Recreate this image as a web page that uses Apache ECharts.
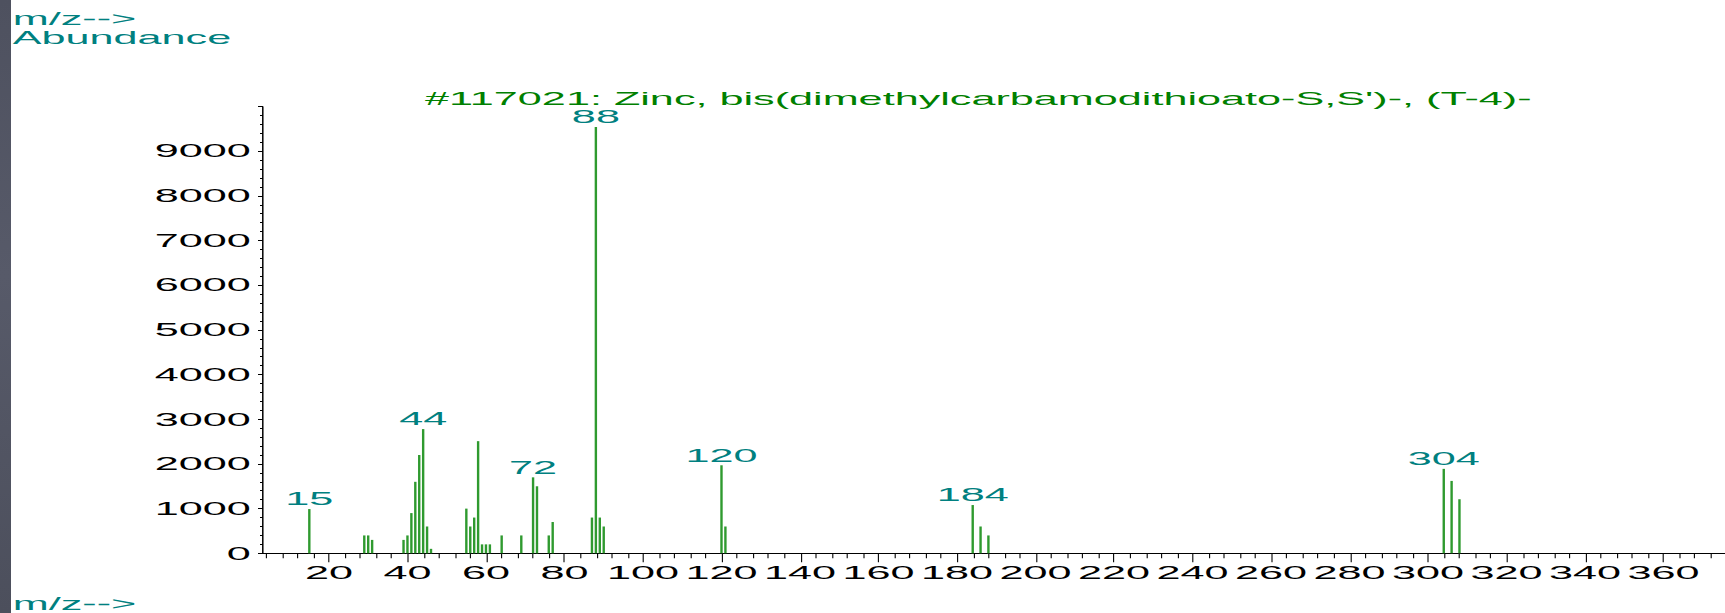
<!DOCTYPE html>
<html>
<head>
<meta charset="utf-8">
<script src="https://cdn.jsdelivr.net/npm/echarts@6/dist/echarts.min.js"></script>
<style>
  html, body { margin: 0; padding: 0; background: #ffffff; width: 1725px; height: 613px; overflow: hidden; }
  /* the spectrum is laid out on a narrow canvas and widened, giving the broad instrument lettering */
  #chart { position: absolute; left: 0; top: 0; width: 718.75px; height: 613px; transform: scaleX(2.4); transform-origin: 0 0; }
  #strip { position: absolute; left: 0; top: 0; width: 11px; height: 613px; z-index: 2;
           background: linear-gradient(180deg, #4e515f 0%, #575a69 45%, #4c4f5c 100%); }
</style>
</head>
<body>
<div id="chart"></div>
<div id="strip"></div>
<script>
// Mass spectrum: m/z positions and their abundances
const mzValues   = [15, 29, 30, 31, 39, 40, 41, 42, 43, 44, 45, 46,
                    55, 56, 57, 58, 59, 60, 61, 64, 69, 72, 73, 76, 77,
                    87, 88, 89, 90, 120, 121, 184, 186, 188, 304, 306, 308];
const abundances = [990, 400, 400, 300, 300, 400, 900, 1600, 2200, 2780, 600, 100,
                    1000, 600, 800, 2510, 200, 200, 200, 400, 400, 1700, 1500, 400, 700,
                    800, 9540, 800, 600, 1970, 600, 1080, 600, 400, 1890, 1620, 1210];
// peaks whose m/z is printed above the line
const labeledPeaks = [15, 44, 72, 88, 120, 184, 304];

// axis tick labels
const xTickLabels = [20, 40, 60, 80, 100, 120, 140, 160, 180, 200, 220, 240, 260, 280, 300, 320, 340, 360];
const yTickLabels = [0, 1000, 2000, 3000, 4000, 5000, 6000, 7000, 8000, 9000];

const titleText = "#117021: Zinc, bis(dimethylcarbamodithioato-S,S')-, (T-4)-";

// horizontal widening applied to the chart box; screen pixels -> layout units
const S = 2.4;
const px = v => v / S;

const FONT = '"Liberation Sans", Arial, Helvetica, sans-serif';
const TEAL = '#008080';

// small x ticks every 4 m/z between the labelled ones
const xMinorTicks = [];
for (let v = 4; v <= 372; v += 4) { if (v % 20 !== 0) xMinorTicks.push(v); }

const chart = echarts.init(document.getElementById('chart'), null, { renderer: 'svg' });

chart.setOption({
  animation: false,
  backgroundColor: '#ffffff',
  textStyle: { fontFamily: FONT },
  title: {
    text: titleText,
    left: px(425),
    top: 89.3,
    padding: 0,
    textStyle: { color: '#008000', fontSize: 18, fontWeight: 'normal', lineHeight: 18, fontFamily: FONT }
  },
  grid: { left: px(263), right: 0, top: 106.5, bottom: 59.7, containLabel: false },
  xAxis: [
    {
      type: 'value',
      min: 3.2,
      max: 375.8,
      splitLine: { show: false },
      axisLine: { show: true, lineStyle: { color: '#000000', width: 1 } },
      axisTick: { show: true, customValues: xTickLabels, length: 9, lineStyle: { color: '#000000', width: px(1.1) } },
      axisLabel: { show: true, customValues: xTickLabels, margin: 10, color: '#000000', fontSize: 18, fontFamily: FONT }
    },
    {
      type: 'value',
      min: 3.2,
      max: 375.8,
      gridIndex: 0,
      position: 'bottom',
      splitLine: { show: false },
      axisLine: { show: false },
      axisLabel: { show: false },
      axisTick: { show: true, customValues: xMinorTicks, length: 5, lineStyle: { color: '#000000', width: px(1.1) } }
    }
  ],
  yAxis: {
    type: 'value',
    min: 0,
    max: 10000,
    interval: 1000,
    splitLine: { show: false },
    axisLine: { show: true, lineStyle: { color: '#000000', width: px(1.5) } },
    axisTick: { show: true, length: px(5), lineStyle: { color: '#000000', width: 1 } },
    minorTick: { show: true, splitNumber: 5, length: px(3), lineStyle: { color: '#000000', width: 1 } },
    axisLabel: {
      showMaxLabel: false,
      margin: px(12.3),
      color: '#000000',
      fontSize: 18,
      fontFamily: FONT,
      formatter: v => (yTickLabels.indexOf(v) >= 0 ? String(v) : '')
    }
  },
  graphic: [
    { type: 'text', x: px(12.7), y: 19.2, style: { text: 'm/z-->', fill: TEAL, font: '18px ' + FONT, align: 'left', verticalAlign: 'middle' } },
    { type: 'text', x: px(12.7), y: 38, style: { text: 'Abundance', fill: TEAL, font: '18px ' + FONT, align: 'left', verticalAlign: 'middle' } },
    { type: 'text', x: px(12.7), y: 604, style: { text: 'm/z-->', fill: TEAL, font: '18px ' + FONT, align: 'left', verticalAlign: 'middle' } }
  ],
  series: [
    {
      type: 'bar',
      xAxisIndex: 0,
      yAxisIndex: 0,
      barWidth: px(1.6),
      itemStyle: { color: '#2f9a2f' },
      label: {
        show: false,
        position: 'top',
        distance: 1,
        color: TEAL,
        fontSize: 18,
        fontFamily: FONT,
        formatter: p => String(p.value[0])
      },
      data: mzValues.map((m, i) => ({
        value: [m, abundances[i]],
        label: { show: labeledPeaks.indexOf(m) >= 0 }
      }))
    }
  ]
});
</script>
</body>
</html>
